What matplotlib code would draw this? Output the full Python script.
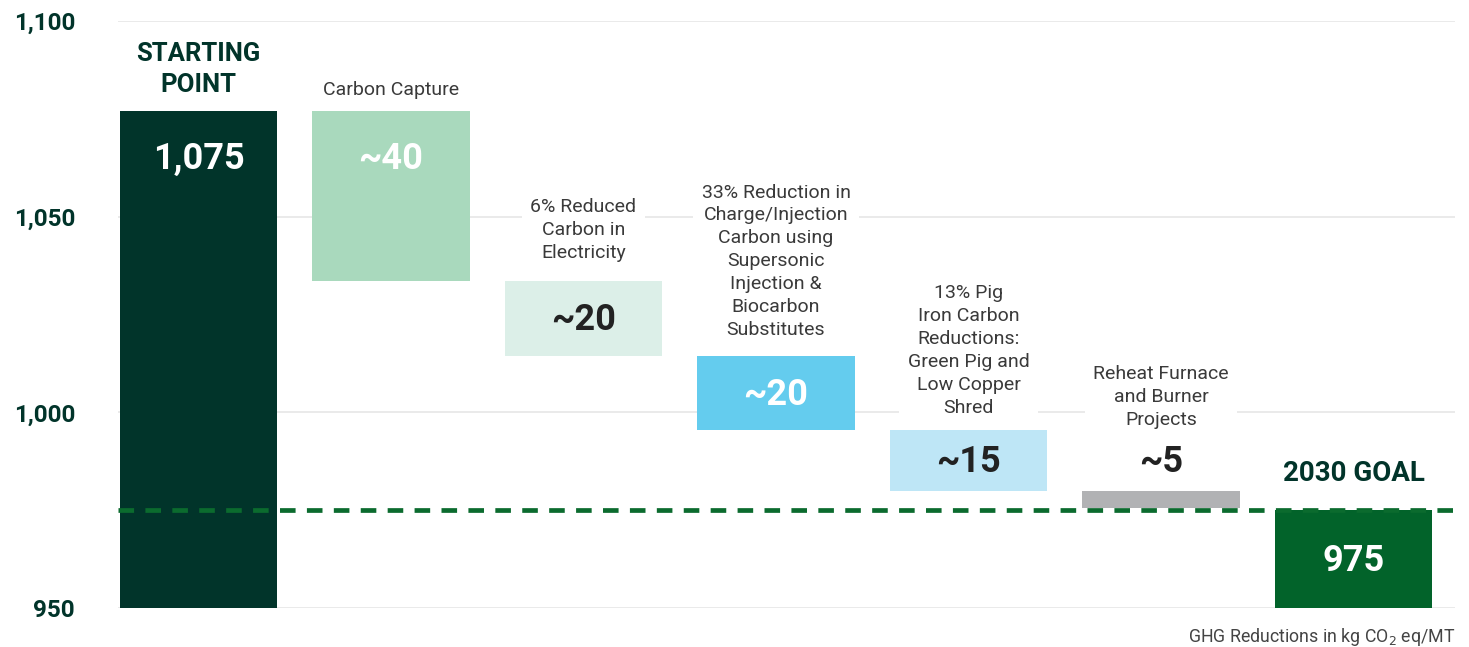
import matplotlib
matplotlib.use("Agg")
import matplotlib.pyplot as plt

plt.rcParams['font.family'] = ['Roboto', 'DejaVu Sans']

# data
categories = ["STARTING\nPOINT", "Carbon Capture", "6% Reduced\nCarbon in\nElectricity",
              "33% Reduction in\nCharge/Injection\nCarbon using\nSupersonic\nInjection &\nBiocarbon\nSubstitutes",
              "13% Pig\nIron Carbon\nReductions:\nGreen Pig and\nLow Copper\nShred",
              "Reheat Furnace\nand Burner\nProjects", "2030 GOAL"]
start_value = 1077
reductions = [43.5, 19, 19, 15.5, 4.5]
goal_value = 975
value_labels = ["1,075", "~40", "~20", "~20", "~15", "~5", "975"]
yticks = [950, 1000, 1050, 1100]
ytick_labels = ["950", "1,000", "1,050", "1,100"]

colors = ["#01342a", "#a9d9bd", "#dcefe8", "#64ccee", "#bee6f6", "#b1b2b4", "#02632a"]
text_colors = ["white", "white", "#222222", "white", "#222222", "#222222", "white"]
dark_green = "#01342a"

# waterfall bottoms / tops
bottoms = [950]
tops = [start_value]
level = start_value
for r in reductions:
    bottoms.append(level - r)
    tops.append(level)
    level = level - r
bottoms.append(950)
tops.append(goal_value)
heights = [t - b for t, b in zip(tops, bottoms)]
x = list(range(len(categories)))

fig = plt.figure(figsize=(14.69, 6.47), dpi=100)
ax = fig.add_axes([118/1469, 39/647, (1455-118)/1469, (608-21)/647])

ax.bar(x, heights, bottom=bottoms, width=0.816, color=colors, zorder=2)
ax.set_xlim(-0.418, 6.527)
ax.set_ylim(950, 1100)

for y in yticks:
    ax.axhline(y, color="#e6e6e6", lw=1.2, zorder=0)

ax.axhline(goal_value, color="#0b6b2e", lw=3.4, linestyle=(0, (3.3, 2.4)), zorder=5)

ax.set_yticks(yticks)
ax.set_yticklabels(ytick_labels, fontsize=17.5, fontweight="bold", color=dark_green)
ax.tick_params(axis="y", length=0, pad=31)
ax.set_xticks([])
for s in ax.spines.values():
    s.set_visible(False)

# value labels
for i in range(len(x)):
    if i in (0, 1):
        yv = tops[i] - 12.3
    elif i == 5:
        yv = tops[i] + 7.2
    else:
        yv = bottoms[i] + heights[i] / 2 - 0.5
    ax.text(x[i], yv, value_labels[i], ha="center", va="center", fontsize=26,
            fontweight="bold", color=text_colors[i], zorder=6)

# category labels
offsets = [10, 9, 14, 12, 9.5, 44.5, 17]
big_sizes = {0: 18.5, 6: 20}
for i in range(len(x)):
    if i in big_sizes:
        ax.annotate(categories[i], (x[i], tops[i]), xytext=(0, offsets[i]), textcoords="offset points",
                    ha="center", va="bottom", fontsize=big_sizes[i], fontweight="bold", color=dark_green,
                    linespacing=1.35, zorder=6)
    else:
        ax.annotate(categories[i], (x[i], tops[i]), xytext=(0, offsets[i]), textcoords="offset points",
                    ha="center", va="bottom", fontsize=14, color="#3a3a3a", linespacing=1.35,
                    bbox=dict(facecolor="white", edgecolor="none", pad=6), zorder=4)

fig.text(1455/1469, 1 - 637/647, "GHG Reductions in kg CO$_2$ eq/MT", ha="right", va="center",
         fontsize=12.8, color="#444444")

fig.savefig("out.png", dpi=100)
